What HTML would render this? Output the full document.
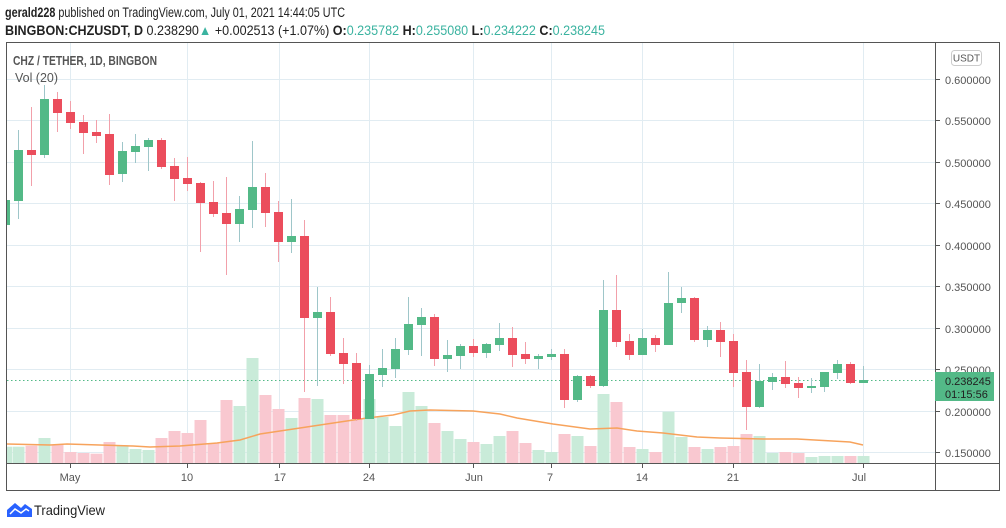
<!DOCTYPE html>
<html><head><meta charset="utf-8"><style>
html,body{margin:0;padding:0;background:#fff;}
svg{display:block;font-family:"Liberation Sans",sans-serif;}
</style></head><body>
<svg width="1006" height="528" viewBox="0 0 1006 528" xmlns="http://www.w3.org/2000/svg">
<defs><clipPath id="cp"><rect x="7" y="43" width="928" height="420"/></clipPath></defs>
<!-- header -->
<text x="5" y="17" font-size="13.5" fill="#222" textLength="340" lengthAdjust="spacingAndGlyphs"><tspan font-weight="bold">gerald228</tspan> published on TradingView.com, July 01, 2021 14:44:05 UTC</text>
<text x="5" y="35" font-size="13.5" fill="#222" textLength="600" lengthAdjust="spacingAndGlyphs"><tspan font-weight="bold">BINGBON:CHZUSDT, D</tspan> 0.238290<tspan fill="#3bb3a0">▲</tspan> +0.002513 (+1.07%) <tspan font-weight="bold">O:</tspan><tspan fill="#3bb3a0">0.235782</tspan> <tspan font-weight="bold">H:</tspan><tspan fill="#3bb3a0">0.255080</tspan> <tspan font-weight="bold">L:</tspan><tspan fill="#3bb3a0">0.234222</tspan> <tspan font-weight="bold">C:</tspan><tspan fill="#3bb3a0">0.238245</tspan></text>
<!-- grid -->
<g stroke="#e1ecf2" stroke-width="1">
<line x1="7" x2="935" y1="79.5" y2="79.5"/><line x1="7" x2="935" y1="120.5" y2="120.5"/><line x1="7" x2="935" y1="162.5" y2="162.5"/><line x1="7" x2="935" y1="203.5" y2="203.5"/><line x1="7" x2="935" y1="245.5" y2="245.5"/><line x1="7" x2="935" y1="286.5" y2="286.5"/><line x1="7" x2="935" y1="328.5" y2="328.5"/><line x1="7" x2="935" y1="369.5" y2="369.5"/><line x1="7" x2="935" y1="411.5" y2="411.5"/><line x1="7" x2="935" y1="452.5" y2="452.5"/>
<line y1="43" y2="463" x1="70.5" x2="70.5"/><line y1="43" y2="463" x1="187.5" x2="187.5"/><line y1="43" y2="463" x1="279.5" x2="279.5"/><line y1="43" y2="463" x1="369.5" x2="369.5"/><line y1="43" y2="463" x1="473.5" x2="473.5"/><line y1="43" y2="463" x1="551.5" x2="551.5"/><line y1="43" y2="463" x1="642.5" x2="642.5"/><line y1="43" y2="463" x1="733.5" x2="733.5"/><line y1="43" y2="463" x1="863.5" x2="863.5"/>
</g>
<g clip-path="url(#cp)">
<!-- volume -->
<g>
<rect x="0" y="446.7" width="12" height="16.3" fill="#c9ebd9"/>
<rect x="12.5" y="446.7" width="12" height="16.3" fill="#c9ebd9"/>
<rect x="25.5" y="445.7" width="12" height="17.3" fill="#f9c8d0"/>
<rect x="38.5" y="438" width="12" height="25" fill="#c9ebd9"/>
<rect x="51.5" y="445" width="12" height="18" fill="#f9c8d0"/>
<rect x="64.5" y="452" width="12" height="11" fill="#f9c8d0"/>
<rect x="77.5" y="453" width="12" height="10" fill="#f9c8d0"/>
<rect x="90.5" y="453.7" width="12" height="9.3" fill="#f9c8d0"/>
<rect x="103.5" y="442" width="12" height="21" fill="#f9c8d0"/>
<rect x="116.5" y="445.3" width="12" height="17.7" fill="#c9ebd9"/>
<rect x="129.5" y="449" width="12" height="14" fill="#c9ebd9"/>
<rect x="142.5" y="450" width="12" height="13" fill="#c9ebd9"/>
<rect x="155.5" y="438" width="12" height="25" fill="#f9c8d0"/>
<rect x="168.5" y="431" width="12" height="32" fill="#f9c8d0"/>
<rect x="181.5" y="433" width="12" height="30" fill="#f9c8d0"/>
<rect x="194.5" y="420" width="12" height="43" fill="#f9c8d0"/>
<rect x="207.5" y="443.3" width="12" height="19.7" fill="#f9c8d0"/>
<rect x="220.5" y="400" width="12" height="63" fill="#f9c8d0"/>
<rect x="233.5" y="406" width="12" height="57" fill="#c9ebd9"/>
<rect x="246.5" y="358" width="12" height="105" fill="#c9ebd9"/>
<rect x="259.5" y="395" width="12" height="68" fill="#f9c8d0"/>
<rect x="272.5" y="409" width="12" height="54" fill="#f9c8d0"/>
<rect x="285.5" y="418" width="12" height="45" fill="#c9ebd9"/>
<rect x="298.5" y="398" width="12" height="65" fill="#f9c8d0"/>
<rect x="311.5" y="399" width="12" height="64" fill="#c9ebd9"/>
<rect x="324.5" y="415" width="12" height="48" fill="#f9c8d0"/>
<rect x="337.5" y="415" width="12" height="48" fill="#f9c8d0"/>
<rect x="350.5" y="419" width="12" height="44" fill="#f9c8d0"/>
<rect x="363.5" y="399" width="12" height="64" fill="#c9ebd9"/>
<rect x="376.5" y="417" width="12" height="46" fill="#c9ebd9"/>
<rect x="389.5" y="426" width="12" height="37" fill="#c9ebd9"/>
<rect x="402.5" y="392" width="12" height="71" fill="#c9ebd9"/>
<rect x="415.5" y="406" width="12" height="57" fill="#c9ebd9"/>
<rect x="428.5" y="423" width="12" height="40" fill="#f9c8d0"/>
<rect x="441.5" y="431" width="12" height="32" fill="#c9ebd9"/>
<rect x="454.5" y="439" width="12" height="24" fill="#c9ebd9"/>
<rect x="467.5" y="442" width="12" height="21" fill="#f9c8d0"/>
<rect x="480.5" y="444" width="12" height="19" fill="#c9ebd9"/>
<rect x="493.5" y="436" width="12" height="27" fill="#c9ebd9"/>
<rect x="506.5" y="431" width="12" height="32" fill="#f9c8d0"/>
<rect x="519.5" y="443" width="12" height="20" fill="#f9c8d0"/>
<rect x="532.5" y="450" width="12" height="13" fill="#c9ebd9"/>
<rect x="545.5" y="452" width="12" height="11" fill="#c9ebd9"/>
<rect x="558.5" y="434" width="12" height="29" fill="#f9c8d0"/>
<rect x="571.5" y="436" width="12" height="27" fill="#c9ebd9"/>
<rect x="584.5" y="446" width="12" height="17" fill="#f9c8d0"/>
<rect x="597.5" y="394" width="12" height="69" fill="#c9ebd9"/>
<rect x="610.5" y="402" width="12" height="61" fill="#f9c8d0"/>
<rect x="623.5" y="447" width="12" height="16" fill="#f9c8d0"/>
<rect x="636.5" y="449" width="12" height="14" fill="#c9ebd9"/>
<rect x="649.5" y="452" width="12" height="11" fill="#f9c8d0"/>
<rect x="662.5" y="411.7" width="12" height="51.3" fill="#c9ebd9"/>
<rect x="675.5" y="437" width="12" height="26" fill="#c9ebd9"/>
<rect x="688.5" y="447" width="12" height="16" fill="#f9c8d0"/>
<rect x="701.5" y="449" width="12" height="14" fill="#c9ebd9"/>
<rect x="714.5" y="447" width="12" height="16" fill="#f9c8d0"/>
<rect x="727.5" y="446" width="12" height="17" fill="#f9c8d0"/>
<rect x="740.5" y="434" width="12" height="29" fill="#f9c8d0"/>
<rect x="753.5" y="436" width="12" height="27" fill="#c9ebd9"/>
<rect x="766.5" y="453" width="12" height="10" fill="#c9ebd9"/>
<rect x="779.5" y="452" width="12" height="11" fill="#f9c8d0"/>
<rect x="792.5" y="453" width="12" height="10" fill="#f9c8d0"/>
<rect x="805.5" y="457" width="12" height="6" fill="#c9ebd9"/>
<rect x="818.5" y="456" width="12" height="7" fill="#c9ebd9"/>
<rect x="831.5" y="456" width="12" height="7" fill="#c9ebd9"/>
<rect x="844.5" y="456" width="12" height="7" fill="#f9c8d0"/>
<rect x="857.5" y="456" width="12" height="7" fill="#c9ebd9"/>
</g>
<!-- MA -->
<polyline fill="none" stroke="#f7a35c" stroke-width="1.5" points="7,444 50,445 67,444 133,446 150,447 180,446 217,443 240,440 260,434 280,431 300,428 320,425 340,422 367,418 393,415 410,411 430,410 473,411 500,414 517,418 553,424 590,429 617,428 637,431 663,433 697,437 720,438 763,439 797,439 850,442 863,445"/>
<!-- current price line -->
<line x1="7" x2="935" y1="380.5" y2="380.5" stroke="#53b987" stroke-width="1" stroke-dasharray="1.5,2.5"/>
<!-- candles: wicks -->
<g stroke-width="1">
<line x1="5.5" x2="5.5" y1="198" y2="226" stroke="#9ec6c9"/>
<line x1="18.5" x2="18.5" y1="130" y2="219" stroke="#9ec6c9"/>
<line x1="31.5" x2="31.5" y1="107" y2="186" stroke="#f2a0aa"/>
<line x1="44.5" x2="44.5" y1="85" y2="158" stroke="#9ec6c9"/>
<line x1="57.5" x2="57.5" y1="92" y2="132" stroke="#f2a0aa"/>
<line x1="70.5" x2="70.5" y1="101" y2="129" stroke="#f2a0aa"/>
<line x1="83.5" x2="83.5" y1="115" y2="154" stroke="#f2a0aa"/>
<line x1="96.5" x2="96.5" y1="120" y2="143" stroke="#f2a0aa"/>
<line x1="109.5" x2="109.5" y1="114" y2="185" stroke="#f2a0aa"/>
<line x1="122.5" x2="122.5" y1="142" y2="182" stroke="#9ec6c9"/>
<line x1="135.5" x2="135.5" y1="134" y2="163" stroke="#9ec6c9"/>
<line x1="148.5" x2="148.5" y1="138" y2="171" stroke="#9ec6c9"/>
<line x1="161.5" x2="161.5" y1="138" y2="169" stroke="#f2a0aa"/>
<line x1="174.5" x2="174.5" y1="158" y2="201" stroke="#f2a0aa"/>
<line x1="187.5" x2="187.5" y1="157" y2="191" stroke="#f2a0aa"/>
<line x1="200.5" x2="200.5" y1="182" y2="252" stroke="#f2a0aa"/>
<line x1="213.5" x2="213.5" y1="181" y2="217" stroke="#f2a0aa"/>
<line x1="226.5" x2="226.5" y1="177" y2="275" stroke="#f2a0aa"/>
<line x1="239.5" x2="239.5" y1="196" y2="242" stroke="#9ec6c9"/>
<line x1="252.5" x2="252.5" y1="141" y2="228" stroke="#9ec6c9"/>
<line x1="265.5" x2="265.5" y1="173" y2="227" stroke="#f2a0aa"/>
<line x1="278.5" x2="278.5" y1="201" y2="262" stroke="#f2a0aa"/>
<line x1="291.5" x2="291.5" y1="199" y2="253" stroke="#9ec6c9"/>
<line x1="304.5" x2="304.5" y1="220" y2="392" stroke="#f2a0aa"/>
<line x1="317.5" x2="317.5" y1="287" y2="386" stroke="#9ec6c9"/>
<line x1="330.5" x2="330.5" y1="297" y2="356" stroke="#f2a0aa"/>
<line x1="343.5" x2="343.5" y1="338" y2="384" stroke="#f2a0aa"/>
<line x1="356.5" x2="356.5" y1="353" y2="421" stroke="#f2a0aa"/>
<line x1="369.5" x2="369.5" y1="365" y2="419" stroke="#9ec6c9"/>
<line x1="382.5" x2="382.5" y1="349" y2="387" stroke="#9ec6c9"/>
<line x1="395.5" x2="395.5" y1="338" y2="378" stroke="#9ec6c9"/>
<line x1="408.5" x2="408.5" y1="297" y2="355" stroke="#9ec6c9"/>
<line x1="421.5" x2="421.5" y1="308" y2="356" stroke="#9ec6c9"/>
<line x1="434.5" x2="434.5" y1="314" y2="366" stroke="#f2a0aa"/>
<line x1="447.5" x2="447.5" y1="340" y2="372" stroke="#9ec6c9"/>
<line x1="460.5" x2="460.5" y1="344" y2="369" stroke="#9ec6c9"/>
<line x1="473.5" x2="473.5" y1="339" y2="357" stroke="#f2a0aa"/>
<line x1="486.5" x2="486.5" y1="343" y2="358" stroke="#9ec6c9"/>
<line x1="499.5" x2="499.5" y1="323" y2="351" stroke="#9ec6c9"/>
<line x1="512.5" x2="512.5" y1="327" y2="367" stroke="#f2a0aa"/>
<line x1="525.5" x2="525.5" y1="342" y2="364" stroke="#f2a0aa"/>
<line x1="538.5" x2="538.5" y1="354" y2="369" stroke="#9ec6c9"/>
<line x1="551.5" x2="551.5" y1="349" y2="360" stroke="#9ec6c9"/>
<line x1="564.5" x2="564.5" y1="349" y2="408" stroke="#f2a0aa"/>
<line x1="577.5" x2="577.5" y1="375" y2="402" stroke="#9ec6c9"/>
<line x1="590.5" x2="590.5" y1="375" y2="388" stroke="#f2a0aa"/>
<line x1="603.5" x2="603.5" y1="280" y2="387" stroke="#9ec6c9"/>
<line x1="616.5" x2="616.5" y1="275" y2="347" stroke="#f2a0aa"/>
<line x1="629.5" x2="629.5" y1="334" y2="360" stroke="#f2a0aa"/>
<line x1="642.5" x2="642.5" y1="329" y2="355" stroke="#9ec6c9"/>
<line x1="655.5" x2="655.5" y1="335" y2="352" stroke="#f2a0aa"/>
<line x1="668.5" x2="668.5" y1="272" y2="345" stroke="#9ec6c9"/>
<line x1="681.5" x2="681.5" y1="287" y2="313" stroke="#9ec6c9"/>
<line x1="694.5" x2="694.5" y1="297" y2="342" stroke="#f2a0aa"/>
<line x1="707.5" x2="707.5" y1="326" y2="347" stroke="#9ec6c9"/>
<line x1="720.5" x2="720.5" y1="322" y2="357" stroke="#f2a0aa"/>
<line x1="733.5" x2="733.5" y1="334" y2="387" stroke="#f2a0aa"/>
<line x1="746.5" x2="746.5" y1="360" y2="430" stroke="#f2a0aa"/>
<line x1="759.5" x2="759.5" y1="364" y2="408" stroke="#9ec6c9"/>
<line x1="772.5" x2="772.5" y1="373" y2="390" stroke="#9ec6c9"/>
<line x1="785.5" x2="785.5" y1="361" y2="388" stroke="#f2a0aa"/>
<line x1="798.5" x2="798.5" y1="377" y2="398" stroke="#f2a0aa"/>
<line x1="811.5" x2="811.5" y1="378" y2="393" stroke="#9ec6c9"/>
<line x1="824.5" x2="824.5" y1="372" y2="392" stroke="#9ec6c9"/>
<line x1="837.5" x2="837.5" y1="360" y2="379" stroke="#9ec6c9"/>
<line x1="850.5" x2="850.5" y1="362" y2="384" stroke="#f2a0aa"/>
<line x1="863.5" x2="863.5" y1="366" y2="383" stroke="#9ec6c9"/>
</g>
<!-- bodies -->
<g>
<rect x="1" y="200" width="9" height="25" fill="#53b987"/>
<rect x="14" y="150" width="9" height="51" fill="#53b987"/>
<rect x="27" y="150" width="9" height="5" fill="#eb4d5c"/>
<rect x="40" y="99" width="9" height="56" fill="#53b987"/>
<rect x="53" y="99" width="9" height="14" fill="#eb4d5c"/>
<rect x="66" y="112" width="9" height="11" fill="#eb4d5c"/>
<rect x="79" y="122" width="9" height="11" fill="#eb4d5c"/>
<rect x="92" y="132" width="9" height="4" fill="#eb4d5c"/>
<rect x="105" y="134" width="9" height="41" fill="#eb4d5c"/>
<rect x="118" y="151" width="9" height="23" fill="#53b987"/>
<rect x="131" y="146" width="9" height="6" fill="#53b987"/>
<rect x="144" y="140" width="9" height="7" fill="#53b987"/>
<rect x="157" y="140" width="9" height="27" fill="#eb4d5c"/>
<rect x="170" y="166" width="9" height="13" fill="#eb4d5c"/>
<rect x="183" y="178" width="9" height="6" fill="#eb4d5c"/>
<rect x="196" y="183" width="9" height="20" fill="#eb4d5c"/>
<rect x="209" y="202" width="9" height="12" fill="#eb4d5c"/>
<rect x="222" y="213" width="9" height="11" fill="#eb4d5c"/>
<rect x="235" y="209" width="9" height="15" fill="#53b987"/>
<rect x="248" y="187" width="9" height="23" fill="#53b987"/>
<rect x="261" y="187" width="9" height="26" fill="#eb4d5c"/>
<rect x="274" y="212" width="9" height="30" fill="#eb4d5c"/>
<rect x="287" y="236" width="9" height="6" fill="#53b987"/>
<rect x="300" y="236" width="9" height="82" fill="#eb4d5c"/>
<rect x="313" y="312" width="9" height="6" fill="#53b987"/>
<rect x="326" y="312" width="9" height="42" fill="#eb4d5c"/>
<rect x="339" y="353" width="9" height="11" fill="#eb4d5c"/>
<rect x="352" y="363" width="9" height="56" fill="#eb4d5c"/>
<rect x="365" y="374" width="9" height="45" fill="#53b987"/>
<rect x="378" y="368" width="9" height="7" fill="#53b987"/>
<rect x="391" y="349" width="9" height="20" fill="#53b987"/>
<rect x="404" y="324" width="9" height="26" fill="#53b987"/>
<rect x="417" y="317" width="9" height="8" fill="#53b987"/>
<rect x="430" y="317" width="9" height="42" fill="#eb4d5c"/>
<rect x="443" y="355" width="9" height="4" fill="#53b987"/>
<rect x="456" y="346" width="9" height="10" fill="#53b987"/>
<rect x="469" y="346" width="9" height="7" fill="#eb4d5c"/>
<rect x="482" y="344" width="9" height="9" fill="#53b987"/>
<rect x="495" y="338" width="9" height="7" fill="#53b987"/>
<rect x="508" y="338" width="9" height="17" fill="#eb4d5c"/>
<rect x="521" y="354" width="9" height="5" fill="#eb4d5c"/>
<rect x="534" y="356" width="9" height="3" fill="#53b987"/>
<rect x="547" y="354" width="9" height="3" fill="#53b987"/>
<rect x="560" y="354" width="9" height="46" fill="#eb4d5c"/>
<rect x="573" y="376" width="9" height="24" fill="#53b987"/>
<rect x="586" y="376" width="9" height="10" fill="#eb4d5c"/>
<rect x="599" y="310" width="9" height="76" fill="#53b987"/>
<rect x="612" y="310" width="9" height="32" fill="#eb4d5c"/>
<rect x="625" y="341" width="9" height="14" fill="#eb4d5c"/>
<rect x="638" y="338" width="9" height="17" fill="#53b987"/>
<rect x="651" y="338" width="9" height="7" fill="#eb4d5c"/>
<rect x="664" y="303" width="9" height="42" fill="#53b987"/>
<rect x="677" y="298" width="9" height="5" fill="#53b987"/>
<rect x="690" y="298" width="9" height="42" fill="#eb4d5c"/>
<rect x="703" y="330" width="9" height="10" fill="#53b987"/>
<rect x="716" y="330" width="9" height="12" fill="#eb4d5c"/>
<rect x="729" y="341" width="9" height="32" fill="#eb4d5c"/>
<rect x="742" y="372" width="9" height="35" fill="#eb4d5c"/>
<rect x="755" y="381" width="9" height="26" fill="#53b987"/>
<rect x="768" y="377" width="9" height="5" fill="#53b987"/>
<rect x="781" y="377" width="9" height="7" fill="#eb4d5c"/>
<rect x="794" y="383" width="9" height="5" fill="#eb4d5c"/>
<rect x="807" y="386" width="9" height="2" fill="#53b987"/>
<rect x="820" y="372" width="9" height="15" fill="#53b987"/>
<rect x="833" y="364" width="9" height="9" fill="#53b987"/>
<rect x="846" y="364" width="9" height="19" fill="#eb4d5c"/>
<rect x="859" y="380" width="9" height="3" fill="#53b987"/>
</g>
</g>
<!-- titles -->
<text x="13" y="65" font-size="12.5" font-weight="bold" fill="#555" textLength="144" lengthAdjust="spacingAndGlyphs">CHZ / TETHER, 1D, BINGBON</text>
<text x="15" y="82" font-size="12.5" fill="#555" textLength="43" lengthAdjust="spacingAndGlyphs">Vol (20)</text>
<!-- frame -->
<g stroke="#555" stroke-width="1" fill="none">
<rect x="6.5" y="42.5" width="993" height="448"/>
<line x1="935.5" x2="935.5" y1="43" y2="491"/>
<line x1="7" x2="999" y1="463.5" y2="463.5"/>
</g>
<!-- price ticks & labels -->
<g stroke="#555"><line x1="935" x2="940" y1="79.5" y2="79.5"/><line x1="935" x2="940" y1="120.5" y2="120.5"/><line x1="935" x2="940" y1="162.5" y2="162.5"/><line x1="935" x2="940" y1="203.5" y2="203.5"/><line x1="935" x2="940" y1="245.5" y2="245.5"/><line x1="935" x2="940" y1="286.5" y2="286.5"/><line x1="935" x2="940" y1="328.5" y2="328.5"/><line x1="935" x2="940" y1="369.5" y2="369.5"/><line x1="935" x2="940" y1="411.5" y2="411.5"/><line x1="935" x2="940" y1="452.5" y2="452.5"/>
<line x1="70.5" x2="70.5" y1="463" y2="468"/><line x1="187.5" x2="187.5" y1="463" y2="468"/><line x1="279.5" x2="279.5" y1="463" y2="468"/><line x1="369.5" x2="369.5" y1="463" y2="468"/><line x1="473.5" x2="473.5" y1="463" y2="468"/><line x1="551.5" x2="551.5" y1="463" y2="468"/><line x1="642.5" x2="642.5" y1="463" y2="468"/><line x1="733.5" x2="733.5" y1="463" y2="468"/><line x1="863.5" x2="863.5" y1="463" y2="468"/></g>
<g font-size="11" fill="#555">
<text x="945" y="84">0.600000</text><text x="945" y="125">0.550000</text><text x="945" y="167">0.500000</text><text x="945" y="208">0.450000</text><text x="945" y="250">0.400000</text><text x="945" y="291">0.350000</text><text x="945" y="333">0.300000</text><text x="945" y="374">0.250000</text><text x="945" y="416">0.200000</text><text x="945" y="457">0.150000</text>
</g>
<rect x="951.5" y="50.5" width="30" height="15" rx="3" fill="#fff" stroke="#ccc"/>
<text x="966.5" y="61.5" font-size="10" fill="#555" text-anchor="middle">USDT</text>
<rect x="935" y="372" width="59" height="29" fill="#53b987"/>
<text x="945" y="385" font-size="11" fill="#222">0.238245</text>
<text x="945" y="398" font-size="11" fill="#222">01:15:56</text>
<!-- date labels -->
<g font-size="11" fill="#555" text-anchor="middle">
<text x="70" y="481">May</text><text x="187" y="481">10</text><text x="280" y="481">17</text><text x="369" y="481">24</text><text x="474" y="481">Jun</text><text x="550" y="481">7</text><text x="642" y="481">14</text><text x="733" y="481">21</text><text x="859" y="481">Jul</text>
</g>
<!-- footer -->
<path d="M7,517 L7,510 L15,503 L21,508 L25,504 L32,509 L32,517 Z" fill="#2962ff"/>
<polyline points="10,514 15,509 21,513 26,509 29,511" fill="none" stroke="#fff" stroke-width="1.5"/>
<text x="34" y="515" font-size="14" fill="#222" textLength="71" lengthAdjust="spacingAndGlyphs">TradingView</text>
</svg>
</body></html>
